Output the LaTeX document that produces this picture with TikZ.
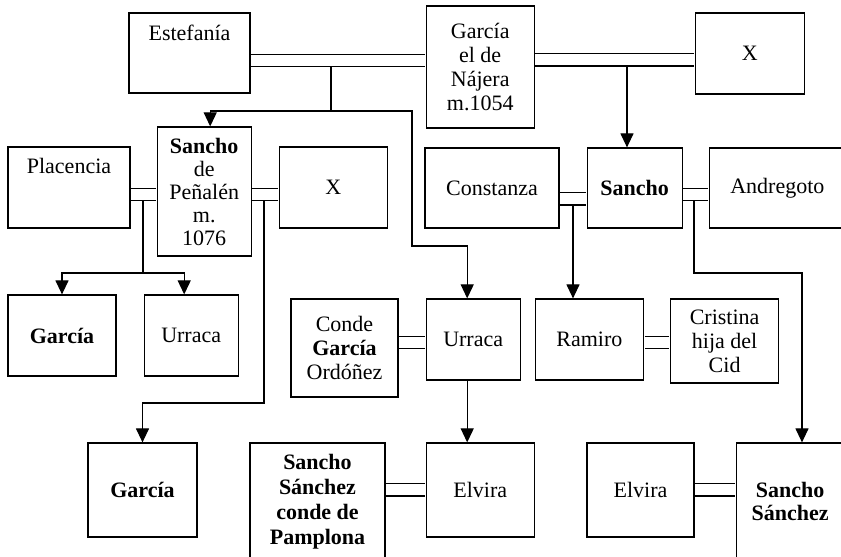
\documentclass[tikz,border=0pt]{standalone}
\usepackage{fontspec}
\setmainfont{Liberation Serif}
\usetikzlibrary{arrows.meta, positioning, calc}
\tikzset{
    person/.style={
        rectangle,
        draw=black,
        line width=1.2pt,
        fill=white,
        inner sep=0pt,
        align=center,
        font=\fontsize{22}{24}\selectfont
    },
    toptext/.style={
        inner sep=0pt,
        text height=16pt,
        text depth=5pt,
        font=\fontsize{22}{24}\selectfont
    },
    marriage/.style={
        draw=black,
        line width=1.2pt,
        double=white,
        double distance=11pt,
        shorten <=0.6pt,
        shorten >=0.6pt
    },
    child/.style={
        draw=black,
        line width=1.2pt,
        -{Triangle[width=13pt,length=14pt]}
    },
    link/.style={
        draw=black,
        line width=1.2pt
    }
}
\begin{document}
\begin{tikzpicture}[x=1pt, y=1pt]
\useasboundingbox (0,0) rectangle (841,557);

% First generation
\node[person, minimum width=121pt, minimum height=80pt] (estefania) at (189.5,504) {};
\node[toptext, below=11.7pt of estefania.north] {Estefanía};
\node[person, minimum width=108pt, minimum height=122pt, right=175pt of estefania, yshift=-14pt] (najera) {García\\el de\\Nájera\\m.1054};
\node[person, minimum width=109pt, minimum height=81pt, right=160pt of najera, yshift=13.5pt] (xtop) {X};

% Second generation
\node[person, minimum width=122pt, minimum height=81pt] (placencia) at (69,369.5) {};
\node[toptext, below=11pt of placencia.north] {Placencia};
\node[person, minimum width=94pt, minimum height=129pt, right=26pt of placencia, yshift=-4pt, font=\fontsize{22}{23}\selectfont] (penalen) {\textbf{Sancho}\\de\\Peñalén\\m.\\1076};
\node[person, minimum width=108pt, minimum height=81pt, right=27pt of penalen, yshift=4pt] (xleft) {X};
\node[person, minimum width=134pt, minimum height=80pt] (constanza) at (492,369) {Constanza};
\node[person, minimum width=95pt, minimum height=80pt, right=27pt of constanza] (sancho) {\textbf{Sancho}};
\node[person, minimum width=136pt, minimum height=80pt, right=26pt of sancho] (andregoto) {Andregoto};

% Third generation
\node[person, minimum width=108pt, minimum height=81pt] (garciaL) at (62,221.5) {\textbf{García}};
\node[person, minimum width=94pt, minimum height=81pt, right=27pt of garciaL] (urracaL) {Urraca};
\node[person, minimum width=107pt, minimum height=98pt] (conde) at (344.5,209) {Conde\\\textbf{García}\\Ordóñez};
\node[person, minimum width=94pt, minimum height=81pt, right=27pt of conde, yshift=8.5pt] (urracaR) {Urraca};
\node[person, minimum width=108pt, minimum height=81pt, right=14pt of urracaR] (ramiro) {Ramiro};
\node[person, minimum width=108pt, minimum height=84pt, right=26pt of ramiro, yshift=-1.5pt] (cristina) {Cristina\\hija del\\Cid};

% Fourth generation
\node[person, minimum width=109pt, minimum height=94pt] (garciaB) at (142.5,67) {\textbf{García}};
\node[person, minimum width=135pt, minimum height=117pt, font=\bfseries\fontsize{22}{25}\selectfont] (pamplona) at (317.5,55.5) {Sancho\\Sánchez\\conde de\\Pamplona};
\node[person, minimum width=108pt, minimum height=94pt, right=40pt of pamplona, yshift=11.5pt] (elviraL) {Elvira};
\node[person, minimum width=107pt, minimum height=94pt] (elviraR) at (640.5,67) {Elvira};
\node[person, minimum width=108pt, minimum height=117pt, right=41pt of elviraR, yshift=-11.5pt, font=\bfseries\fontsize{22}{23}\selectfont] (sanchoS) {Sancho\\Sánchez};

% Junctions
\coordinate (m1) at (331,496.5);
\coordinate (j1) at (331,446);
\coordinate (b1) at (412,311);
\coordinate (m2) at (627,497);
\coordinate (m3) at (143,362.5);
\coordinate (j3) at (143,284);
\coordinate (m4) at (264,362.5);
\coordinate (j4) at (142.5,154);
\coordinate (m5) at (573,358);
\coordinate (m6) at (694,362.5);
\coordinate (j6) at (802,284);

% Descendants
\draw[link] (m1) -- (j1);
\draw[child] (j1) -| ([xshift=6pt]penalen.north);
\draw[child] (j1) -| (b1) -| ([xshift=-6pt]urracaR.north);
\draw[child] (m2) -- (m2 |- sancho.north);
\draw[link] (m3) -- (j3);
\draw[child] (j3) -| (garciaL.north);
\draw[child] (j3) -| ([xshift=-7pt]urracaL.north);
\draw[child] (m4) |- (j4) -- (garciaB.north);
\draw[child] (m5) -- (m5 |- ramiro.north);
\draw[child] (m6) |- (j6) -- (j6 |- sanchoS.north);
\draw[child] ([xshift=-6pt]urracaR.south) -- ([xshift=-6pt]urracaR.south |- elviraL.north);

% Marriages
\draw[marriage] ([yshift=-7.5pt]estefania.east) -- ([yshift=-7.5pt]estefania.east -| najera.west);
\draw[marriage] ([yshift=-6.5pt]xtop.west) -- ([yshift=-6.5pt]xtop.west -| najera.east);
\draw[marriage] ([yshift=-7pt]placencia.east) -- ([yshift=-7pt]placencia.east -| penalen.west);
\draw[marriage] ([yshift=-7pt]xleft.west) -- ([yshift=-7pt]xleft.west -| penalen.east);
\draw[marriage] ([yshift=-11pt]constanza.east) -- ([yshift=-11pt]constanza.east -| sancho.west);
\draw[marriage] ([yshift=-6.5pt]sancho.east) -- ([yshift=-6.5pt]sancho.east -| andregoto.west);
\draw[marriage] ([yshift=-3pt]urracaR.west) -- ([yshift=-3pt]urracaR.west -| conde.east);
\draw[marriage] ([yshift=-3pt]ramiro.east) -- ([yshift=-3pt]ramiro.east -| cristina.west);
\draw[marriage] (elviraL.west) -- (elviraL.west -| pamplona.east);
\draw[marriage] (elviraR.east) -- (elviraR.east -| sanchoS.west);

\end{tikzpicture}
\end{document}
